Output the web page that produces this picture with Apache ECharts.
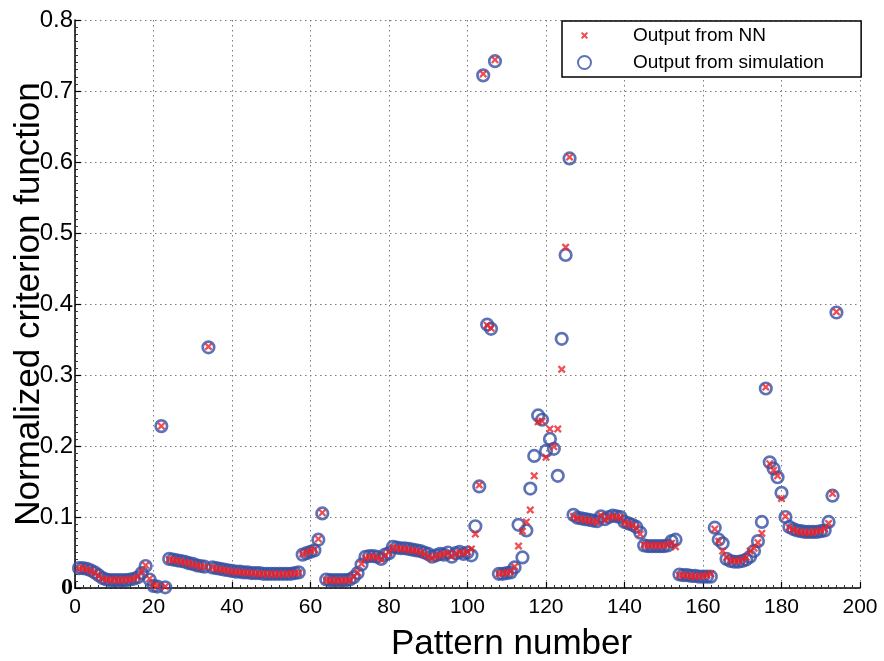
<!DOCTYPE html>
<html>
<head>
<meta charset="utf-8">
<script src="https://cdn.jsdelivr.net/npm/echarts@6/dist/echarts.min.js"></script>
<style>
  html, body { margin: 0; padding: 0; background: #fff; }
  #chart { width: 884px; height: 661px; }
</style>
</head>
<body>
<div id="chart"></div>
<script>
// pattern numbers 1..194
var patterns = [];
for (var i = 1; i <= 194; i++) patterns.push(i);

// output from simulation (blue circles)
var simValues = [
  0.028, 0.028, 0.027, 0.025, 0.022, 0.018, 0.014, 0.012, 0.011, 0.011,
  0.011, 0.011, 0.011, 0.012, 0.013, 0.015, 0.021, 0.031, 0.012, 0.003,
  0.002, 0.228, 0.001, 0.041, 0.040, 0.039, 0.038, 0.037, 0.035, 0.034,
  0.032, 0.031, 0.030, 0.339, 0.029, 0.028, 0.027, 0.026, 0.025, 0.024,
  0.023, 0.023, 0.022, 0.022, 0.021, 0.021, 0.021, 0.020, 0.020, 0.020,
  0.020, 0.020, 0.020, 0.020, 0.020, 0.021, 0.022, 0.047, 0.049, 0.051,
  0.053, 0.068, 0.105, 0.012, 0.011, 0.011, 0.011, 0.011, 0.011, 0.012,
  0.015, 0.021, 0.033, 0.044, 0.045, 0.045, 0.044, 0.041, 0.047, 0.049,
  0.058, 0.057, 0.056, 0.056, 0.055, 0.054, 0.053, 0.052, 0.050, 0.048,
  0.044, 0.046, 0.048, 0.047, 0.050, 0.044, 0.049, 0.051, 0.048, 0.050,
  0.046, 0.087, 0.143, 0.722, 0.371, 0.365, 0.742, 0.020, 0.020, 0.021,
  0.022, 0.029, 0.089, 0.043, 0.081, 0.140, 0.186, 0.243, 0.237, 0.193,
  0.210, 0.196, 0.158, 0.351, 0.469, 0.605, 0.103, 0.099, 0.098, 0.097,
  0.096, 0.095, 0.094, 0.101, 0.097, 0.100, 0.102, 0.101, 0.100, 0.093,
  0.091, 0.089, 0.086, 0.078, 0.060, 0.059, 0.059, 0.059, 0.059, 0.059,
  0.060, 0.066, 0.068, 0.019, 0.018, 0.018, 0.017, 0.017, 0.016, 0.016,
  0.016, 0.016, 0.085, 0.068, 0.063, 0.041, 0.038, 0.037, 0.037, 0.038,
  0.040, 0.044, 0.052, 0.066, 0.093, 0.281, 0.177, 0.168, 0.156, 0.134,
  0.100, 0.086, 0.083, 0.081, 0.080, 0.079, 0.079, 0.079, 0.079, 0.080,
  0.081, 0.093, 0.130, 0.388
];

// output from NN (red crosses)
var nnValues = [
  0.027, 0.028, 0.026, 0.024, 0.021, 0.017, 0.013, 0.012, 0.011, 0.012,
  0.011, 0.011, 0.012, 0.012, 0.013, 0.016, 0.023, 0.032, 0.013, 0.004,
  0.003, 0.228, 0.002, 0.040, 0.039, 0.039, 0.037, 0.036, 0.035, 0.033,
  0.032, 0.030, 0.030, 0.340, 0.029, 0.027, 0.026, 0.026, 0.024, 0.023,
  0.023, 0.022, 0.022, 0.021, 0.021, 0.020, 0.020, 0.020, 0.019, 0.020,
  0.019, 0.020, 0.019, 0.020, 0.020, 0.021, 0.021, 0.048, 0.050, 0.052,
  0.054, 0.069, 0.106, 0.011, 0.011, 0.010, 0.011, 0.010, 0.011, 0.011,
  0.016, 0.022, 0.034, 0.042, 0.044, 0.044, 0.043, 0.040, 0.046, 0.050,
  0.057, 0.056, 0.055, 0.055, 0.054, 0.053, 0.052, 0.050, 0.048, 0.044,
  0.042, 0.045, 0.046, 0.048, 0.049, 0.045, 0.048, 0.050, 0.049, 0.051,
  0.055, 0.076, 0.145, 0.724, 0.370, 0.366, 0.744, 0.020, 0.021, 0.021,
  0.023, 0.030, 0.059, 0.080, 0.093, 0.110, 0.158, 0.234, 0.235, 0.184,
  0.224, 0.199, 0.224, 0.308, 0.480, 0.607, 0.101, 0.098, 0.097, 0.096,
  0.095, 0.094, 0.093, 0.102, 0.096, 0.099, 0.101, 0.100, 0.099, 0.092,
  0.090, 0.088, 0.085, 0.076, 0.061, 0.060, 0.060, 0.060, 0.060, 0.060,
  0.061, 0.063, 0.058, 0.018, 0.018, 0.017, 0.017, 0.016, 0.017, 0.017,
  0.018, 0.020, 0.083, 0.066, 0.052, 0.043, 0.039, 0.038, 0.038, 0.040,
  0.043, 0.052, 0.056, 0.064, 0.077, 0.283, 0.175, 0.166, 0.158, 0.126,
  0.101, 0.085, 0.082, 0.080, 0.079, 0.078, 0.078, 0.078, 0.080, 0.081,
  0.083, 0.091, 0.133, 0.389
];

var xTicks = [0, 20, 40, 60, 80, 100, 120, 140, 160, 180, 200];
var yTicks = [0, 0.1, 0.2, 0.3, 0.4, 0.5, 0.6, 0.7, 0.8];

var BLUE = '#3550a2';
var RED = '#ea2229';
var CROSS = 'path://M0,2L2,0L5,3L8,0L10,2L7,5L10,8L8,10L5,7L2,10L0,8L3,5Z';
// same cross, padded so that it draws smaller inside the legend box
var CROSS_LEGEND = 'path://M-4,-4l0.01,0l0,0.01z M14,14l0.01,0l0,0.01z ' +
  'M0,2L2,0L5,3L8,0L10,2L7,5L10,8L8,10L5,7L2,10L0,8L3,5Z';

function pairs(vals) {
  return vals.map(function (v, i) { return [patterns[i], v]; });
}

var chart = echarts.init(document.getElementById('chart'), null, { renderer: 'canvas' });

var gridLine = { show: true, lineStyle: { color: '#7a7a7a', width: 1, type: [1.5, 3.5] } };

var option = {
  backgroundColor: '#fff',
  animation: false,
  grid: { left: 75, right: 24, top: 20, bottom: 73, containLabel: false, outerBoundsMode: 'none' },
  legend: {
    orient: 'vertical',
    left: 562,
    top: 21,
    padding: [5, 37, 5, 15],
    itemWidth: 13,
    itemHeight: 13,
    itemGap: 8,
    borderColor: '#000',
    borderWidth: 1.5,
    backgroundColor: '#fff',
    textStyle: { fontFamily: '"Liberation Sans", Arial, sans-serif', fontSize: 19, color: '#000', padding: [0, 0, 0, 37] },
    data: [
      { name: 'Output from NN', icon: CROSS_LEGEND },
      { name: 'Output from simulation', icon: 'circle' }
    ]
  },
  xAxis: {
    type: 'value',
    min: 0, max: 200, interval: 20,
    name: 'Pattern number',
    nameLocation: 'middle',
    nameGap: 39,
    nameMoveOverlap: false,
    nameTextStyle: { fontFamily: '"Liberation Sans", Arial, sans-serif', fontSize: 35, color: '#000', padding: [0, 0, 0, 88] },
    axisLine: { show: true, onZero: false, lineStyle: { color: '#000', width: 1.5 } },
    axisTick: { show: true, inside: true, length: 6, lineStyle: { color: '#000', width: 1.2 } },
    minorTick: { show: true, splitNumber: 10, length: 3, lineStyle: { color: '#333' } },
    axisLabel: {
      margin: 9,
      fontFamily: '"Liberation Sans Narrow", "Liberation Sans", Arial, sans-serif',
      fontSize: 21, color: '#000',
      formatter: function (v) { return xTicks.indexOf(v) >= 0 ? String(v) : ''; }
    },
    splitLine: gridLine
  },
  yAxis: {
    type: 'value',
    min: 0, max: 0.8, interval: 0.1,
    name: 'Normalized criterion function',
    nameLocation: 'middle',
    nameGap: 28,
    nameMoveOverlap: false,
    nameTextStyle: { fontFamily: '"Liberation Sans", Arial, sans-serif', fontSize: 35, color: '#000' },
    axisLine: { show: true, onZero: false, lineStyle: { color: '#000', width: 1.5 } },
    axisTick: { show: true, inside: true, length: 6, lineStyle: { color: '#000', width: 1.2 } },
    minorTick: { show: true, splitNumber: 10, length: 3, lineStyle: { color: '#333' } },
    axisLabel: {
      margin: 2,
      fontFamily: '"Liberation Sans", Arial, sans-serif',
      fontSize: 24, color: '#000',
      formatter: function (v) {
        var r = Math.round(v * 10) / 10;
        if (yTicks.indexOf(r) < 0) return '';
        return r === 0 ? '{z|0}' : r.toFixed(1);
      },
      rich: { z: { fontFamily: '"Liberation Serif", "DejaVu Serif", serif', fontWeight: 'bold', fontSize: 24, color: '#000' } }
    },
    splitLine: gridLine
  },
  series: [
    {
      name: 'Output from simulation',
      type: 'scatter',
      z: 2,
      symbol: 'circle',
      symbolSize: 11.5,
      itemStyle: { color: 'rgba(0,0,0,0)', borderColor: BLUE, borderWidth: 2.7 },
      data: pairs(simValues)
    },
    {
      name: 'Output from NN',
      type: 'scatter',
      z: 3,
      symbol: CROSS,
      symbolSize: 8,
      itemStyle: { color: RED },
      data: pairs(nnValues)
    }
  ]
};

chart.setOption(option);
</script>
</body>
</html>
